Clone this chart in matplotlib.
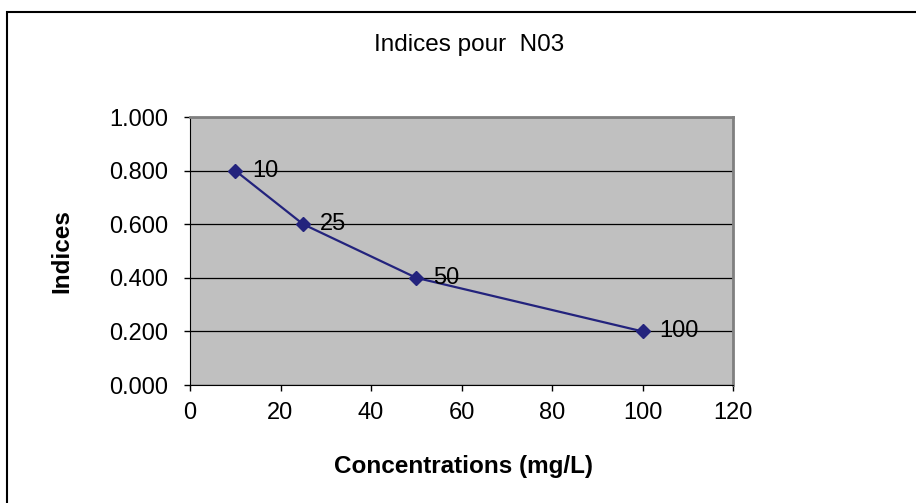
import matplotlib.pyplot as plt
from matplotlib.patches import Rectangle

plt.rcParams['font.family'] = ['Liberation Sans', 'DejaVu Sans']

conc = [10, 25, 50, 100]
indices = [0.8, 0.6, 0.4, 0.2]
labels = ['10', '25', '50', '100']

fig = plt.figure(figsize=(9.16, 5.03), dpi=100)
# outer frame (only top and left visible)
fig.add_artist(Rectangle((7/916, -0.5), 2, 0.5 + 1 - 12/503, transform=fig.transFigure,
                         fill=False, edgecolor='black', linewidth=1.5))

ax = fig.add_axes([190/916, 1 - 385/503, (733 - 190)/916, (385 - 117)/503])
ax.set_facecolor('#C0C0C0')
ax.plot(conc, indices, color='#23237D', marker='D', markersize=7, linewidth=1.6)
for x, y, t in zip(conc, indices, labels):
    ax.annotate(t, (x, y), xytext=(12, 0), textcoords='offset points',
                va='center', ha='left', fontsize=17)

ax.set_xlim(0, 120)
ax.set_ylim(0, 1.0)
ax.set_xticks(range(0, 121, 20))
ax.set_yticks([0, 0.2, 0.4, 0.6, 0.8, 1.0])
ax.set_yticklabels(['%.3f' % v for v in [0, 0.2, 0.4, 0.6, 0.8, 1.0]])
ax.tick_params(labelsize=17, length=4.5, width=1, direction='out')
ax.tick_params(axis='y', pad=11)
ax.tick_params(axis='x', pad=8)
ax.grid(axis='y', color='black', linewidth=0.9)
ax.set_axisbelow(True)
for s in ['top', 'right']:
    ax.spines[s].set_color('#808080')
    ax.spines[s].set_linewidth(2)
for s in ['left', 'bottom']:
    ax.spines[s].set_color('black')

fig.text(463/916, 1 - 467/503, 'Concentrations (mg/L)', ha='center', va='center',
         fontsize=17.5, fontweight='bold')
fig.text(62/916, 1 - 251/503, 'Indices', ha='center', va='center', rotation=90,
         fontsize=17.5, fontweight='bold')
fig.text(469/916, 1 - 45/503, 'Indices pour  N03', ha='center', va='center', fontsize=17.5)

fig.savefig('out.png', dpi=100)
